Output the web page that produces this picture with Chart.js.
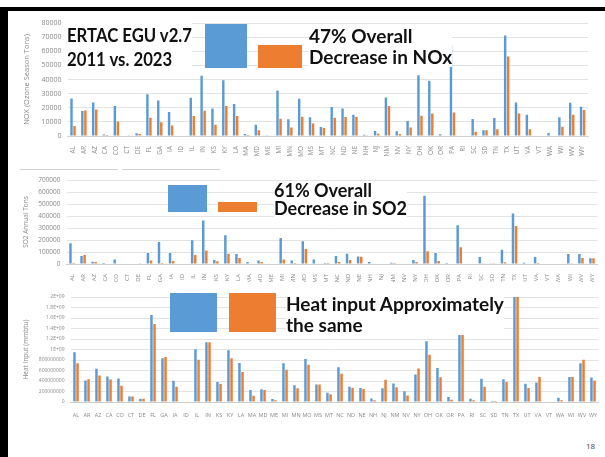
<!DOCTYPE html>
<html>
<head>
<meta charset="utf-8">
<script src="https://cdn.jsdelivr.net/npm/chart.js@4"></script>
<style>
  body { margin: 0; background: #fff; }
  #slide { position: relative; width: 605px; height: 457px; overflow: hidden; background: #fff; font-family: Lato, "Open Sans", sans-serif; }
  .frame { position: absolute; background: #000; }
  .panel { position: absolute; }
  .swatch { position: absolute; z-index: 2; }
  .note { position: absolute; font-weight: bold; color: #111; line-height: 21px; white-space: nowrap; background: #fff; transform-origin: 0 0; }
  .rule { position: absolute; height: 1px; background: #d0d0d0; }
</style>
</head>
<body>
<div id="slide">
  <div class="frame" style="left:0;top:7px;width:605px;height:4px"></div>
  <div class="frame" style="left:0;top:7px;width:8px;height:450px"></div>

  <canvas id="noxChart" class="panel" style="left:8px;top:12px"></canvas>
  <canvas id="so2Chart" class="panel" style="left:8px;top:170px"></canvas>
  <canvas id="heatChart" class="panel" style="left:8px;top:285px"></canvas>

  <div class="rule" style="left:20px;top:169px;width:98px"></div>
  <div class="rule" style="left:122px;top:169px;width:98px"></div>

  <!-- NOx overlay -->
  <div class="swatch" style="left:205px;top:24px;width:42px;height:44px;background:#5b9bd5"></div>
  <div class="swatch" style="left:258px;top:45px;width:44px;height:23px;background:#ed7d31"></div>
  <div class="note" style="left:67px;top:23px;font-size:19px;line-height:24px;transform:scaleX(0.88)">ERTAC EGU v2.7<br>2011 vs. 2023</div>
  <div class="note" style="left:309px;top:25px;font-size:19px">47% Overall<br>Decrease in NOx</div>

  <!-- SO2 overlay -->
  <div class="swatch" style="left:168px;top:185px;width:39px;height:27px;background:#5b9bd5"></div>
  <div class="swatch" style="left:218px;top:202px;width:39px;height:10px;background:#ed7d31"></div>
  <div class="note" style="left:274px;top:182px;font-size:18px;line-height:17.5px">61% Overall<br>Decrease in SO2</div>

  <!-- Heat overlay -->
  <div class="swatch" style="left:170px;top:293px;width:47px;height:39px;background:#5b9bd5"></div>
  <div class="swatch" style="left:229px;top:293px;width:47px;height:39px;background:#ed7d31"></div>
  <div class="note" style="left:286px;top:293px;font-size:19px">Heat input Approximately<br>the same</div>

  <div style="position:absolute;left:586px;top:440px;font-size:8px;color:#444;font-family:'Open Sans',sans-serif">18</div>
</div>

<script>
const states = ['AL','AR','AZ','CA','CO','CT','DE','FL','GA','IA','ID','IL','IN','KS','KY','LA','MA','MD','ME','MI','MN','MO',
                'MS','MT','NC','ND','NE','NH','NJ','NM','NV','NY','OH','OK','OR','PA','RI','SC','SD','TN','TX','UT','VA','VT','WA','WI','WV','WY'];

// NOx ozone season tons
const nox2011 = [26500,17700,23700,1000,21200,300,2000,29500,25100,17000,0,27000,42600,19500,39500,22600,1400,7900,200,32300,11900,26300,
                 13300,6300,20500,19500,15100,900,3500,27200,3300,10700,43000,39100,1200,64400,0,12100,4000,12800,71200,23700,15100,0,2100,13300,23500,20700];
const nox2023 = [7000,18000,18800,700,10200,200,1400,13000,9800,7400,0,14200,17900,7900,21200,14200,700,4000,0,12300,6000,13700,
                 8800,5600,13000,13500,13700,200,1600,21200,1400,6000,14400,16000,0,16700,0,3000,4000,4700,56300,16000,4700,0,0,6500,15100,18400];

// SO2 annual tons
const so2_2011 = [173000,66000,19000,1000,38000,0,5000,91000,184000,91000,0,198000,363000,33000,239000,83000,16000,30000,0,217000,30000,190000,
                  38000,8000,66000,85000,63000,16000,0,11000,0,33000,569000,91000,8000,322000,0,58000,3000,118000,421000,11000,58000,0,0,83000,83000,47000];
const so2_2023 = [8000,74000,16000,0,5000,0,2000,30000,8000,25000,0,74000,113000,22000,85000,50000,0,16000,0,38000,8000,124000,
                  5000,8000,16000,33000,60000,0,0,8000,0,16000,107000,25000,0,140000,0,3000,3000,14000,316000,5000,1000,0,0,3000,50000,47000];

// heat input, millions of mmbtu
const heat2011 = [950,410,633,484,447,106,62,1658,832,404,0,1006,1136,379,987,745,230,242,56,739,317,820,
                  335,174,664,292,267,68,261,354,205,522,1155,646,93,1298,62,441,19,435,2100,348,373,0,81,478,739,466];
const heat2023 = [739,435,503,428,310,106,62,1484,857,292,0,807,1136,342,832,571,118,230,31,615,261,708,
                  335,149,540,273,248,31,422,280,124,640,900,472,43,1422,31,292,19,379,2060,267,478,0,31,478,807,410];

const heatTickLabels = ['0','200000000','400000000','600000000','800000000','1E+09','1.2E+09','1.4E+09','1.6E+09','1.8E+09','2E+09'];

const BLUE = '#5b9bd5';
const ORANGE = '#ed7d31';
const TEXT = '#8a8a8a';
const FONT = "'Open Sans', sans-serif";

function makeChart(id, w, h, cfg) {
    const canvas = document.getElementById(id);
    canvas.width = w;
    canvas.height = h;
    canvas.style.width = w + 'px';
    canvas.style.height = h + 'px';
    return new Chart(canvas.getContext('2d'), {
        type: 'bar',
        data: {
            labels: states,
            datasets: [
                { label: '2011', data: cfg.a, backgroundColor: BLUE, categoryPercentage: 0.56, barPercentage: 0.8 },
                { label: '2023', data: cfg.b, backgroundColor: ORANGE, categoryPercentage: 0.56, barPercentage: 0.8 }
            ]
        },
        options: {
            responsive: false,
            animation: false,
            layout: { padding: cfg.pad },
            plugins: { legend: { display: false }, tooltip: { enabled: false } },
            scales: {
                x: {
                    grid: { display: false },
                    border: { display: true, color: '#d0d0d0' },
                    ticks: {
                        autoSkip: false,
                        minRotation: cfg.rot, maxRotation: cfg.rot,
                        padding: 2,
                        color: TEXT,
                        font: { family: FONT, size: cfg.xFont }
                    },
                    afterFit: s => { s.height = cfg.xHeight; }
                },
                y: {
                    min: 0,
                    max: cfg.max,
                    grid: { color: '#e3e3e3', drawTicks: false },
                    border: { display: false },
                    ticks: {
                        stepSize: cfg.step,
                        padding: 6,
                        color: TEXT,
                        font: { family: FONT, size: cfg.yFont },
                        callback: cfg.tickCb || (v => v)
                    },
                    title: {
                        display: true,
                        text: cfg.title,
                        color: TEXT,
                        padding: 0,
                        font: { family: FONT, size: cfg.titleFont }
                    },
                    afterFit: s => { s.width = cfg.yWidth; }
                }
            }
        }
    });
}

makeChart('noxChart', 590, 150, {
    a: nox2011, b: nox2023, max: 80000, step: 10000,
    title: 'NOX (Ozone Season Tons)', titleFont: 7.5, yFont: 7, xFont: 6.5, rot: 90,
    pad: { left: 14, right: 10, top: 11, bottom: 0 }, yWidth: 45.6, xHeight: 26
});

makeChart('so2Chart', 597, 112, {
    a: so2_2011, b: so2_2023, max: 700000, step: 100000,
    title: 'SO2 Annual Tons', titleFont: 6.5, yFont: 6.5, xFont: 6, rot: 90,
    pad: { left: 14, right: 7.5, top: 10, bottom: 0 }, yWidth: 44.5, xHeight: 18
});

makeChart('heatChart', 597, 135, {
    a: heat2011, b: heat2023, max: 2000, step: 200,
    title: 'Heat Input (mmbtu)', titleFont: 6.5, yFont: 5, xFont: 5.5, rot: 0,
    tickCb: (v, i) => heatTickLabels[i],
    pad: { left: 14, right: 6.5, top: 12, bottom: 0 }, yWidth: 48.5, xHeight: 18
});
</script>
</body>
</html>
